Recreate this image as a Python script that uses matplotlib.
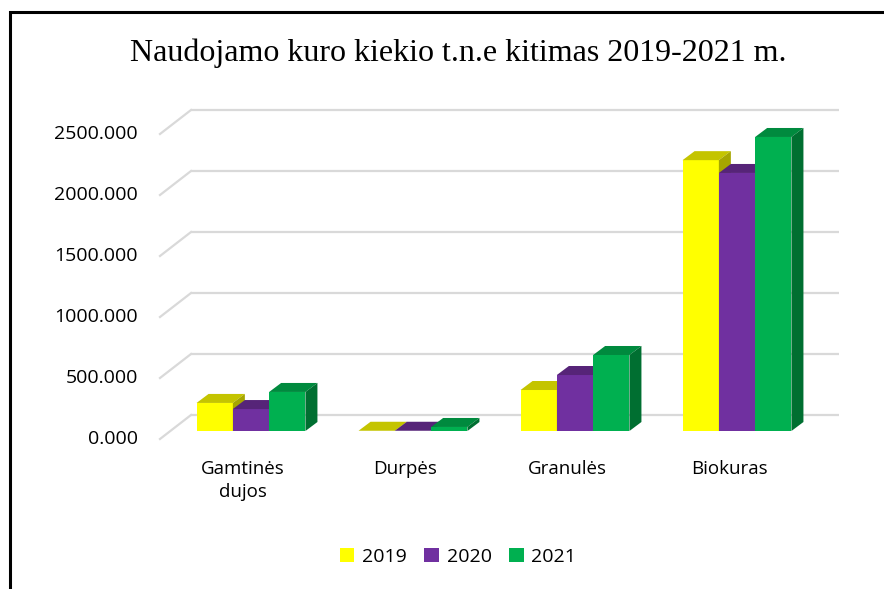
import matplotlib
matplotlib.use("Agg")
import numpy as np
import matplotlib.pyplot as plt
from matplotlib.lines import Line2D
from matplotlib.patches import Polygon
from matplotlib.transforms import Affine2D, IdentityTransform

categories = ["Gamtinės\ndujos", "Durpės", "Granulės", "Biokuras"]
years = ["2019", "2020", "2021"]
v2019 = [230, 2, 336, 2220]
v2020 = [180, 2, 459, 2115]
v2021 = [320, 33, 623, 2410]
yticks = [0, 500, 1000, 1500, 2000, 2500]

front = ["#FFFF00", "#7030A0", "#00B050"]
top = ["#C4C400", "#562478", "#008A3E"]
side = ["#A6A600", "#46205F", "#006F31"]

W, H = 884, 589
fig = plt.figure(figsize=(W / 100, H / 100), dpi=100, facecolor="white")
ax = fig.add_axes([170 / W, (H - 431) / H, 648 / W, 305 / H])
ax.set_xlim(-0.5, 3.5)
ax.set_ylim(0, 2500)
for s in ax.spines.values():
    s.set_visible(False)
ax.patch.set_visible(False)

label_font = ["Open Sans", "DejaVu Sans"]

# gridlines: back wall + slanted side wall
back = ax.transData + Affine2D().translate(21, 16)
for v in yticks:
    ax.plot([-0.5, 3.5], [v, v], color="#D9D9D9", lw=1.6, transform=back,
            clip_on=False, zorder=1, solid_capstyle="butt")
    p0 = ax.transData.transform((-0.5, v))
    ax.plot([p0[0] - 10, p0[0] + 21], [p0[1] - 8, p0[1] + 16], color="#D9D9D9", lw=1.6,
            transform=IdentityTransform(), clip_on=False, zorder=1)

# bars
bw = 0.224
dx, dy = 12, 9
x = np.arange(len(categories))
series = [v2019, v2020, v2021]
for i, vals in enumerate(series):
    xs = x + (i - 1) * bw
    ax.bar(xs, vals, bw, color=front[i], label=years[i], zorder=3 + i, linewidth=0)
    for xc, v in zip(xs, vals):
        a = ax.transData.transform((xc - bw / 2, v))
        b = ax.transData.transform((xc + bw / 2, v))
        c = ax.transData.transform((xc + bw / 2, 0))
        ax.add_patch(Polygon([a, b, b + [dx, dy], a + [dx, dy]], closed=True, facecolor=top[i],
                             edgecolor="none", transform=IdentityTransform(), zorder=3 + i,
                             clip_on=False))
        ax.add_patch(Polygon([c, b, b + [dx, dy], c + [dx, dy]], closed=True, facecolor=side[i],
                             edgecolor="none", transform=IdentityTransform(), zorder=3 + i,
                             clip_on=False))

# tick labels
ax.tick_params(length=0)
ax.set_yticks(yticks)
ax.set_yticklabels(["%.3f" % v for v in yticks], fontsize=14, family=label_font, color="black")
ax.set_xticks(x)
ax.set_xticklabels(categories, fontsize=13.5, family=label_font, color="black", linespacing=1.35)
ax.tick_params(axis="y", pad=23)
ax.tick_params(axis="x", pad=21)
for lab in ax.get_yticklabels():
    lab.set_transform(lab.get_transform() + Affine2D().translate(0, -6))
for lab in ax.get_xticklabels():
    lab.set_transform(lab.get_transform() + Affine2D().translate(-8, 0))

fig.text(458 / W, 1 - 53 / H, "Naudojamo kuro kiekio t.n.e kitimas 2019-2021 m.",
         family="Liberation Serif", fontsize=23, ha="center", va="center", color="black")

leg = fig.legend(loc="center", bbox_to_anchor=(458 / W, 1 - 557 / H), ncol=3, frameon=False,
                 prop={"family": label_font, "size": 14}, handlelength=0.75, handleheight=0.75,
                 handletextpad=0.4, columnspacing=0.9)

# outer frame of the chart
fig.add_artist(Line2D([9.5 / W, 9.5 / W, 1], [0, 1 - 11.5 / H, 1 - 11.5 / H], color="black", lw=2.2,
                      transform=fig.transFigure, solid_joinstyle="miter"))

fig.savefig("out.png", dpi=100)
